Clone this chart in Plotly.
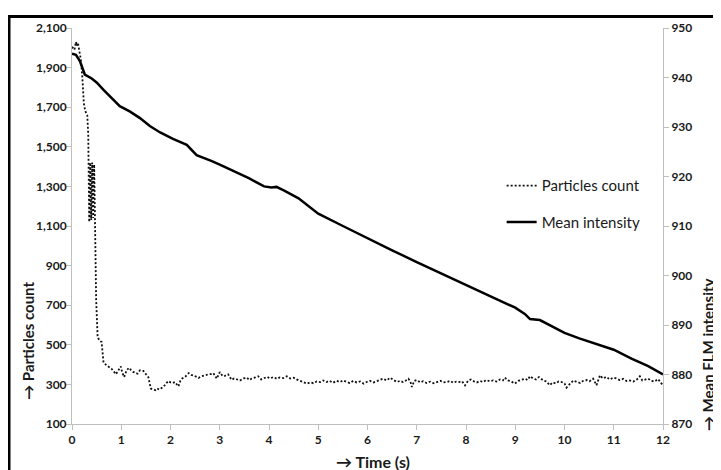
import plotly.graph_objects as go

# particles count (left axis)
pc_time = [0.00, 0.05, 0.08, 0.10, 0.12, 0.15, 0.18, 0.21, 0.24, 0.27, 0.31, 0.33, 0.35, 0.37, 0.39,
           0.41, 0.43, 0.45, 0.47, 0.49, 0.52, 0.56, 0.60, 0.64, 0.70, 0.75, 0.80, 0.85, 0.89, 0.94,
           0.99, 1.02, 1.06, 1.11, 1.16, 1.20, 1.24, 1.28, 1.33, 1.38, 1.42, 1.45, 1.50, 1.55, 1.60,
           1.65, 1.69, 1.73, 1.77, 1.82, 1.86, 1.91, 1.96, 2.00, 2.04, 2.09, 2.13, 2.16, 2.20, 2.23,
           2.27, 2.31, 2.37, 2.42, 2.47, 2.52, 2.57, 2.62, 2.67, 2.72, 2.77, 2.82, 2.87, 2.94, 3.00,
           3.04, 3.08, 3.12, 3.17, 3.24, 3.29, 3.34, 3.41, 3.48, 3.55, 3.60, 3.65, 3.72, 3.78, 3.84,
           3.90, 3.96, 4.02, 4.09, 4.16, 4.22, 4.29, 4.36, 4.43, 4.50, 4.56, 4.63, 4.70, 4.77, 4.84,
           4.90, 4.97, 5.04, 5.10, 5.17, 5.23, 5.30, 5.37, 5.44, 5.50, 5.57, 5.64, 5.71, 5.78, 5.85,
           5.92, 5.98, 6.05, 6.12, 6.18, 6.25, 6.32, 6.39, 6.46, 6.53, 6.60, 6.66, 6.72, 6.78, 6.83,
           6.87, 6.90, 6.95, 7.00, 7.07, 7.13, 7.20, 7.27, 7.34, 7.41, 7.48, 7.54, 7.61, 7.68, 7.74,
           7.80, 7.86, 7.92, 7.98, 8.04, 8.10, 8.16, 8.22, 8.28, 8.35, 8.41, 8.48, 8.55, 8.62, 8.69,
           8.75, 8.79, 8.85, 8.92, 8.99, 9.06, 9.13, 9.20, 9.25, 9.30, 9.36, 9.42, 9.48, 9.53, 9.57,
           9.63, 9.70, 9.76, 9.82, 9.88, 9.94, 10.00, 10.04, 10.10, 10.18, 10.25, 10.32, 10.38, 10.45,
           10.51, 10.58, 10.65, 10.72, 10.78, 10.85, 10.92, 10.99, 11.05, 11.12, 11.19, 11.26, 11.33,
           11.40, 11.47, 11.53, 11.58, 11.64, 11.70, 11.76, 11.83, 11.90, 11.97, 12.00]
pc_values = [2005, 1990, 2030, 2010, 2025, 1990, 1940, 1850, 1720, 1680, 1660, 1560, 1120, 1420, 1130,
             1420, 1140, 1410, 1000, 730, 540, 520, 515, 412, 396, 388, 380, 365, 351, 370,
             391, 360, 337, 372, 384, 372, 363, 360, 354, 371, 368, 368, 352, 337, 279,
             275, 271, 280, 274, 282, 288, 305, 317, 310, 307, 312, 300, 290, 318, 329,
             335, 341, 357, 348, 345, 338, 333, 340, 345, 348, 351, 352, 357, 329, 362,
             348, 340, 345, 351, 323, 330, 326, 320, 330, 334, 322, 330, 335, 341, 325,
             330, 338, 330, 337, 328, 335, 332, 341, 330, 334, 325, 317, 310, 304, 310,
             306, 315, 312, 320, 312, 318, 308, 318, 312, 320, 314, 307, 318, 310, 315,
             304, 312, 318, 310, 316, 322, 329, 320, 334, 322, 312, 318, 312, 320, 329,
             315, 287, 318, 322, 310, 316, 307, 314, 306, 312, 318, 310, 312, 318, 308,
             314, 312, 316, 295, 318, 325, 315, 310, 317, 312, 322, 316, 320, 314, 325,
             320, 334, 320, 315, 304, 318, 325, 329, 322, 341, 330, 325, 337, 328, 320,
             315, 296, 310, 305, 315, 312, 305, 284, 300, 320, 312, 307, 318, 322,
             316, 329, 296, 346, 330, 338, 325, 334, 330, 322, 328, 317, 320,
             314, 325, 341, 320, 326, 329, 318, 315, 327, 304, 310]

# mean FLM intensity (right axis)
mi_time = [0, 0.08, 0.16, 0.26, 0.4, 0.5, 0.64, 0.8, 0.97, 1.18, 1.38, 1.58, 1.79, 2.05, 2.23,
           2.33, 2.53, 2.73, 2.84, 3.0, 3.3, 3.6, 3.9, 4.05, 4.15, 4.3, 4.6, 5.0, 5.5, 6.0,
           6.5, 7.0, 7.5, 8.0, 8.5, 9.0, 9.2, 9.3, 9.5, 9.7, 10.0, 10.3, 10.6, 11.0, 11.36,
           11.7, 12.0]
mi_values = [944.8, 944.6, 943.3, 940.6, 939.8, 939.0, 937.5, 936.0, 934.2, 933.1, 931.8, 930.2,
             928.9, 927.6, 926.9, 926.4, 924.3, 923.6, 923.1, 922.4, 921.0, 919.6, 918.0, 917.8,
             917.9, 917.2, 915.6, 912.5, 910.0, 907.5, 905.1, 902.7, 900.4, 898.1, 895.8, 893.5,
             892.2, 891.2, 891.0, 890.0, 888.4, 887.3, 886.3, 885.0, 883.2, 881.7, 880.0]

FONT = "Lato"
AX_GREY = "#bfbfbf"
TXT = "#1a1a1a"

fig = go.Figure()
fig.add_trace(go.Scatter(x=pc_time, y=pc_values, name="Particles count", mode="lines",
                         line=dict(color="#111", width=1.8, dash="2px,2px"),
                         legendgroup="a"))
fig.add_trace(go.Scatter(x=mi_time, y=mi_values, name="Mean intensity", mode="lines",
                         line=dict(color="#000", width=2.5), yaxis="y2",
                         legendgroup="b"))

tick_font = dict(family=FONT, size=12, color=TXT, weight="bold")

# the page body adds an 8px offset, so the figure is 8px smaller than the window
fig.update_layout(
    width=713, height=462,
    margin=dict(l=64, r=58, t=17, b=46),
    paper_bgcolor="white", plot_bgcolor="white",
    xaxis=dict(range=[0, 12], dtick=1, showgrid=False, zeroline=False,
               showline=True, linecolor=AX_GREY, linewidth=1,
               ticks="outside", ticklen=5, tickcolor=AX_GREY, tickfont=tick_font),
    xaxis2=dict(range=[0, 12], dtick=2, overlaying="x", side="top", anchor="y",
                showgrid=False, zeroline=False, showline=True, linecolor=AX_GREY,
                ticks="outside", ticklen=3, tickcolor=AX_GREY, showticklabels=False),
    yaxis=dict(range=[100, 2100], tick0=100, dtick=200, tickformat=",", showgrid=False,
               zeroline=False, showline=True, linecolor=AX_GREY, linewidth=1,
               ticks="outside", ticklen=5, tickcolor=AX_GREY, tickfont=tick_font,
               ticklabelstandoff=-3),
    yaxis2=dict(range=[870, 950], dtick=10, overlaying="y", side="right", anchor="x",
                showgrid=False, zeroline=False, showline=True, linecolor=AX_GREY,
                ticks="outside", ticklen=5, tickcolor=AX_GREY, tickfont=tick_font),
    legend=dict(x=0.727, y=0.643, xanchor="left", yanchor="top", bgcolor="rgba(0,0,0,0)",
                font=dict(family=FONT, size=15, color=TXT), traceorder="grouped",
                tracegroupgap=14),
    showlegend=True,
)

# axis titles as annotations
fig.add_annotation(text="→ Time (s)", x=0.509, y=-0.095, xref="paper", yref="paper",
                   showarrow=False, xanchor="center", yanchor="middle",
                   font=dict(family=FONT, size=16, color=TXT, weight="bold"))
fig.add_annotation(text="→ Particles count", x=-0.0745, y=0.21, xref="paper", yref="paper",
                   showarrow=False, textangle=-90, xanchor="center", yanchor="middle",
                   font=dict(family=FONT, size=15, color=TXT, weight="bold"))
fig.add_annotation(text="→ Mean FLM intensity", x=1.075, y=0.175, xref="paper", yref="paper",
                   showarrow=False, textangle=-90, xanchor="center", yanchor="middle",
                   font=dict(family=FONT, size=15, color=TXT, weight="bold"))

# black frame around the chart
fig.add_shape(type="rect", xref="paper", yref="paper", x0=-0.1066, x1=1.3, y0=-0.3, y1=1.029,
              line=dict(color="black", width=3))

fig.write_html("out.html")
